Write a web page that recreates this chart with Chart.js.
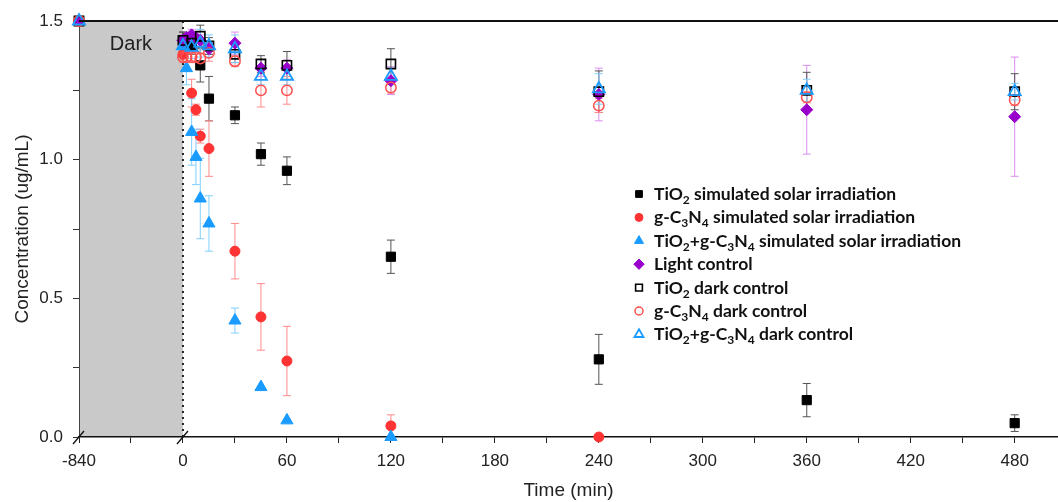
<!DOCTYPE html>
<html>
<head>
<meta charset="utf-8">
<script src="https://cdn.jsdelivr.net/npm/chart.js@4.4.0/dist/chart.umd.min.js"></script>
<style>
  html, body { margin: 0; padding: 0; background: #fff; }
  #wrap { width: 1058px; height: 502px; position: relative; }
</style>
</head>
<body>
<div id="wrap"><canvas id="chart"></canvas></div>
<script>
// sampling times (min); -840 is the start of the dark period
const times = [-840, 0, 2, 5, 7.5, 10, 15, 30, 45, 60, 120, 240, 360, 480];

// concentrations (ug/mL), null = not measured / not shown
const tio2Solar      = [1.5, 1.43, null, 1.41, null, 1.34, 1.22, 1.16, 1.02, 0.96, 0.65, 0.28, 0.133, 0.05];
const tio2SolarErr   = [0, 0.03, null, 0.03, null, 0.06, 0.08, 0.03, 0.04, 0.05, 0.06, 0.09, 0.06, 0.03];
const gcnSolar       = [1.5, 1.38, null, 1.24, 1.18, 1.085, 1.04, 0.67, 0.433, 0.274, 0.04, 0.0, null, null];
const gcnSolarErr    = [0, 0.02, null, 0.05, 0.02, 0.025, 0.10, 0.10, 0.12, 0.125, 0.04, 0, null, null];
const mixSolar       = [1.5, 1.41, 1.33, 1.10, 1.01, 0.86, 0.77, 0.42, 0.18, 0.06, 0.0, null, null, null];
const mixSolarErr    = [0, 0.03, 0.06, 0.12, 0.10, 0.145, 0.10, 0.045, 0, 0, 0, null, null, null];
const lightControl   = [1.5, 1.43, 1.44, 1.45, 1.44, 1.43, 1.40, 1.42, 1.33, 1.33, 1.285, 1.235, 1.18, 1.155];
const lightControlErr= [0, 0.02, 0.02, 0.02, 0.02, 0.02, 0.02, 0.04, 0.03, 0.03, 0.05, 0.095, 0.16, 0.215];
const tio2Dark       = [1.5, 1.43, null, 1.42, null, 1.445, 1.41, 1.38, 1.345, 1.34, 1.345, 1.245, 1.25, 1.245];
const tio2DarkErr    = [0, 0.03, null, 0.03, null, 0.04, 0.03, 0.03, 0.03, 0.05, 0.055, 0.075, 0.065, 0.065];
const gcnDark        = [1.5, 1.37, 1.37, 1.37, 1.37, 1.365, 1.385, 1.355, 1.25, 1.25, 1.26, 1.195, 1.225, 1.215];
const gcnDarkErr     = [0, 0.02, 0.02, 0.02, 0.02, 0.02, 0.03, 0.02, 0.06, 0.05, 0.02, 0.025, 0.02, 0.02];
const mixDark        = [1.5, 1.41, null, 1.405, null, 1.42, 1.41, 1.40, 1.30, 1.30, 1.30, 1.255, 1.25, 1.245];
const mixDarkErr     = [0, 0.03, null, 0.04, null, 0.05, 0.04, 0.05, 0.03, 0.03, 0.03, 0.055, 0.04, 0.03];

// tick labels
const xTickLabels = [-840, 0, 60, 120, 180, 240, 300, 360, 420, 480];
const yTickLabels = [0, 0.5, 1.0, 1.5];

// the dark period (-840..0) is squeezed into one 60 min slot of the axis
function axisX(t) {
    return t < 0 ? t * 60 / 840 : t;
}

const series = [
    { label: 'TiO_2 simulated solar irradiation', values: tio2Solar, errors: tio2SolarErr,
      style: 'rect', radius: 6.5, fill: '#000000', stroke: '#000000', bw: 1, err: '#555555', legendR: 4.8 },
    { label: 'g-C_3N_4 simulated solar irradiation', values: gcnSolar, errors: gcnSolarErr,
      style: 'circle', radius: 5, fill: '#ff3333', stroke: '#ff3333', bw: 1, err: '#ff8a8a', legendR: 4 },
    { label: 'TiO_2+g-C_3N_4 simulated solar irradiation', values: mixSolar, errors: mixSolarErr,
      style: 'triangle', radius: 7, fill: '#1a9bff', stroke: '#1a9bff', bw: 1, err: '#80cfff', legendR: 5.2 },
    { label: 'Light control', values: lightControl, errors: lightControlErr,
      style: 'rectRot', radius: 6, fill: '#9a00cc', stroke: '#9a00cc', bw: 1, err: '#dc8cf0', legendR: 5.2 },
    { label: 'TiO_2 dark control', values: tio2Dark, errors: tio2DarkErr,
      style: 'rect', radius: 6.5, fill: 'rgba(0,0,0,0)', stroke: '#000000', bw: 1.6, err: '#555555', legendR: 4.8 },
    { label: 'g-C_3N_4 dark control', values: gcnDark, errors: gcnDarkErr,
      style: 'circle', radius: 5.2, fill: 'rgba(0,0,0,0)', stroke: '#ff4d4d', bw: 1.5, err: '#ff8a8a', legendR: 4 },
    { label: 'TiO_2+g-C_3N_4 dark control', values: mixDark, errors: mixDarkErr,
      style: 'triangle', radius: 7, fill: 'rgba(0,0,0,0)', stroke: '#1a9bff', bw: 1.8, err: '#80cfff', legendR: 5.2 }
];

function plainLabel(s) {
    return s.replace(/_(\d)/g, (m, d) => String.fromCharCode(0x2080 + Number(d)));
}

const datasets = series.map((s, i) => ({
    label: plainLabel(s.label),
    rawLabel: s.label,
    data: times.map((t, j) => s.values[j] == null ? null : { x: axisX(t), y: s.values[j], err: s.errors[j] })
               .filter(p => p !== null),
    pointStyle: s.style,
    pointRadius: s.radius,
    backgroundColor: s.fill,
    borderColor: s.stroke,
    borderWidth: s.bw,
    errColor: s.err,
    legendR: s.legendR,
    showLine: false,
    clip: false,
    order: series.length - i   // later series sit on top
}));

const FONT = "'Liberation Sans', Arial, sans-serif";

const decorPlugin = {
    id: 'decor',
    beforeDraw(chart) {
        const { ctx, chartArea, scales } = chart;
        const x0 = scales.x.getPixelForValue(axisX(-840));
        const x1 = scales.x.getPixelForValue(0);
        ctx.save();
        ctx.fillStyle = '#c9c9c9';
        ctx.fillRect(x0, chartArea.top, x1 - x0, chartArea.bottom - chartArea.top);
        ctx.fillStyle = '#222';
        ctx.font = '20px ' + FONT;
        ctx.textAlign = 'center';
        ctx.textBaseline = 'middle';
        ctx.fillText('Dark', (x0 + x1) / 2, chartArea.top + 23);
        ctx.restore();
    },
    beforeDatasetsDraw(chart) {
        const { ctx, chartArea, scales } = chart;
        const x1 = scales.x.getPixelForValue(0);
        ctx.save();
        // dotted line at t = 0
        ctx.strokeStyle = '#222';
        ctx.lineWidth = 2;
        ctx.setLineDash([2, 4]);
        ctx.beginPath();
        ctx.moveTo(x1, chartArea.bottom);
        ctx.lineTo(x1, chartArea.top);
        ctx.stroke();
        ctx.setLineDash([]);
        // error bars
        ctx.lineWidth = 1;
        chart.data.datasets.forEach((ds) => {
            ctx.strokeStyle = ds.errColor;
            ds.data.forEach((p) => {
                if (!p.err) return;
                const px = scales.x.getPixelForValue(p.x);
                const yTop = scales.y.getPixelForValue(p.y + p.err);
                const yBot = scales.y.getPixelForValue(Math.max(0, p.y - p.err));
                ctx.beginPath();
                ctx.moveTo(px, yTop); ctx.lineTo(px, yBot);
                ctx.moveTo(px - 4, yTop); ctx.lineTo(px + 4, yTop);
                ctx.moveTo(px - 4, yBot); ctx.lineTo(px + 4, yBot);
                ctx.stroke();
            });
        });
        ctx.restore();
    },
    afterDraw(chart) {
        const { ctx, chartArea, scales } = chart;
        ctx.save();
        // top frame line
        ctx.strokeStyle = '#111';
        ctx.lineWidth = 2;
        ctx.beginPath();
        ctx.moveTo(chartArea.left, chartArea.top);
        ctx.lineTo(chart.width, chartArea.top);
        ctx.stroke();
        // axis break marks
        ctx.lineWidth = 1.3;
        [-840, 0].forEach((t) => {
            const x = scales.x.getPixelForValue(axisX(t));
            const y = chartArea.bottom;
            ctx.beginPath();
            ctx.moveTo(x - 6, y + 7);
            ctx.lineTo(x + 5, y - 6);
            ctx.stroke();
        });

        // legend with subscripts
        const markX = 639, textX = 654, rowY = 194, rowH = 23.4;
        chart.data.datasets.forEach((ds, i) => {
            const y = rowY + i * rowH;
            ctx.fillStyle = ds.backgroundColor;
            ctx.strokeStyle = ds.borderColor;
            ctx.lineWidth = ds.borderWidth;
            Chart.helpers.drawPoint(ctx, {
                pointStyle: ds.pointStyle, radius: ds.legendR, rotation: 0, borderWidth: ds.borderWidth
            }, markX, y);
            ctx.fillStyle = '#111';
            ctx.textAlign = 'left';
            ctx.textBaseline = 'alphabetic';
            let tx = textX;
            ds.rawLabel.split(/_(\d)/).forEach((part, k) => {
                const sub = k % 2 === 1;
                ctx.font = sub ? 'bold 12px Lato, sans-serif' : 'bold 17.5px Lato, sans-serif';
                ctx.fillText(part, tx, sub ? y + 10 : y + 6);
                tx += ctx.measureText(part).width;
            });
        });
        ctx.restore();
    }
};

new Chart(document.getElementById('chart'), {
    type: 'scatter',
    data: { datasets },
    options: {
        responsive: true,
        maintainAspectRatio: false,
        animation: false,
        events: [],
        layout: { autoPadding: false, padding: { top: 21, right: 0, left: 0, bottom: 0 } },
        plugins: {
            legend: { display: false },
            tooltip: { enabled: false }
        },
        scales: {
            x: {
                type: 'linear',
                min: -60,
                max: 505,
                afterFit: (scale) => {
                    scale.height = 65;
                    scale.paddingLeft = 0;
                    scale.paddingRight = 0;
                },
                afterBuildTicks: (scale) => {
                    const pos = xTickLabels.map(axisX);
                    const ticks = [];
                    pos.forEach((p, i) => {
                        ticks.push({ value: p });
                        if (i < pos.length - 1) ticks.push({ value: (p + pos[i + 1]) / 2 });
                    });
                    scale.ticks = ticks;
                },
                ticks: {
                    autoSkip: false,
                    maxRotation: 0,
                    padding: 8,
                    color: '#222',
                    font: { family: FONT, size: 17 },
                    callback: (value) => {
                        const i = xTickLabels.map(axisX).indexOf(value);
                        return i >= 0 ? String(xTickLabels[i]) : '';
                    }
                },
                grid: { drawOnChartArea: false, drawTicks: true, tickLength: 6, tickColor: '#222' },
                border: { display: true, color: '#111', width: 1.5 },
                title: {
                    display: true,
                    text: 'Time (min)',
                    color: '#222',
                    font: { family: FONT, size: 19 },
                    padding: { top: 0, bottom: 0 }
                }
            },
            y: {
                min: 0,
                max: 1.5,
                afterFit: (scale) => { scale.width = 79; },
                ticks: {
                    stepSize: 0.25,
                    padding: 10,
                    color: '#222',
                    font: { family: FONT, size: 17 },
                    callback: (value) => yTickLabels.includes(value) ? value.toFixed(1) : ''
                },
                grid: { drawOnChartArea: false, drawTicks: true, tickLength: 6, tickColor: '#333' },
                border: { display: true, color: '#444', width: 1 },
                title: {
                    display: true,
                    text: 'Concentration (ug/mL)',
                    color: '#222',
                    font: { family: FONT, size: 19 },
                    padding: { top: 11, bottom: 0 }
                }
            }
        }
    },
    plugins: [decorPlugin]
});
</script>
</body>
</html>
